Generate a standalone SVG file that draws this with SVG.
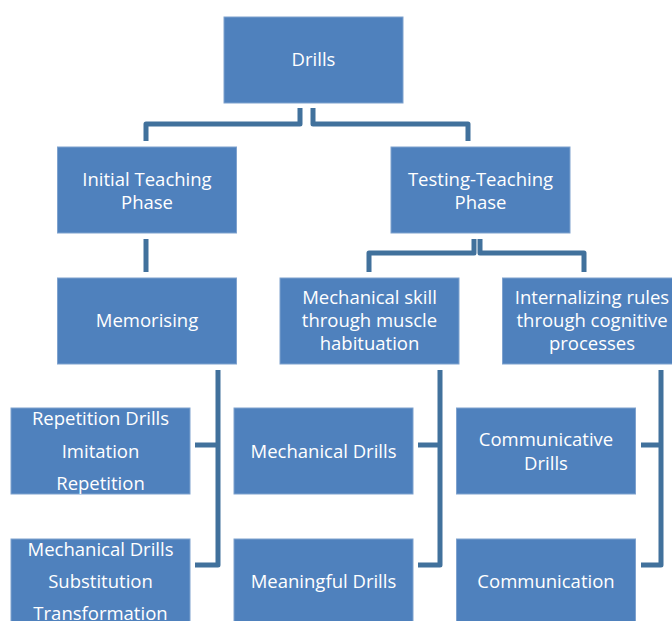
<svg xmlns="http://www.w3.org/2000/svg" width="672" height="621" viewBox="0 0 672 621">
<style>
.box{fill:#4F81BD;stroke:#7FA2CE;stroke-width:1}
.t{font-family:"Open Sans","Liberation Sans",Arial,sans-serif;font-size:18.5px;fill:#fff;text-anchor:middle}
.c{fill:none;stroke:#41719C;stroke-width:5;stroke-linejoin:round}
</style>
<rect width="672" height="621" fill="#fff"/>
<g id="connectors">
<path class="c" d="M300 108 V124 H146 V141"/>
<path class="c" d="M313 108 V124 H468 V141"/>
<path class="c" d="M146 239 V272"/>
<path class="c" d="M474 239 V253 H369 V272"/>
<path class="c" d="M480 239 V253 H584 V272"/>
<path class="c" d="M218 370 V565 H195"/>
<path class="c" d="M218 445 H195"/>
<path class="c" d="M440 370 V565 H418"/>
<path class="c" d="M440 445 H418"/>
<path class="c" d="M661 370 V565 H641"/>
<path class="c" d="M661 445 H641"/>
</g>
<g id="drills"><rect class="box" x="224" y="17" width="179" height="86"/><text class="t" x="313.5" y="66">Drills</text></g>
<g id="initial"><rect class="box" x="57.5" y="147" width="179" height="86"/><text class="t" x="147" y="186">Initial Teaching</text><text class="t" x="147" y="209">Phase</text></g>
<g id="testing"><rect class="box" x="391" y="147" width="179" height="86"/><text class="t" x="480.5" y="186">Testing-Teaching</text><text class="t" x="480.5" y="209">Phase</text></g>
<g id="memorising"><rect class="box" x="57.5" y="278" width="179" height="86"/><text class="t" x="147" y="327">Memorising</text></g>
<g id="mechskill"><rect class="box" x="280" y="278" width="179" height="86"/><text class="t" x="369.5" y="304">Mechanical skill</text><text class="t" x="369.5" y="327">through muscle</text><text class="t" x="369.5" y="350">habituation</text></g>
<g id="internal"><rect class="box" x="502.5" y="278" width="179" height="86"/><text class="t" x="592" y="304">Internalizing rules</text><text class="t" x="592" y="327">through cognitive</text><text class="t" x="592" y="350">processes</text></g>
<g id="repetition"><rect class="box" x="11" y="408" width="179" height="86"/><text class="t" x="100.5" y="425">Repetition Drills</text><text class="t" x="100.5" y="458">Imitation</text><text class="t" x="100.5" y="490">Repetition</text></g>
<g id="mechdrills-left"><rect class="box" x="11" y="539" width="179" height="86"/><text class="t" x="100.5" y="556">Mechanical Drills</text><text class="t" x="100.5" y="588">Substitution</text><text class="t" x="100.5" y="620">Transformation</text></g>
<g id="mechdrills"><rect class="box" x="234" y="408" width="179" height="86"/><text class="t" x="323.5" y="458">Mechanical Drills</text></g>
<g id="meaningful"><rect class="box" x="234" y="539" width="179" height="86"/><text class="t" x="323.5" y="588">Meaningful Drills</text></g>
<g id="communicative"><rect class="box" x="456.5" y="408" width="179" height="86"/><text class="t" x="546" y="446">Communicative</text><text class="t" x="546" y="470">Drills</text></g>
<g id="communication"><rect class="box" x="456.5" y="539" width="179" height="86"/><text class="t" x="546" y="588">Communication</text></g>
</svg>
